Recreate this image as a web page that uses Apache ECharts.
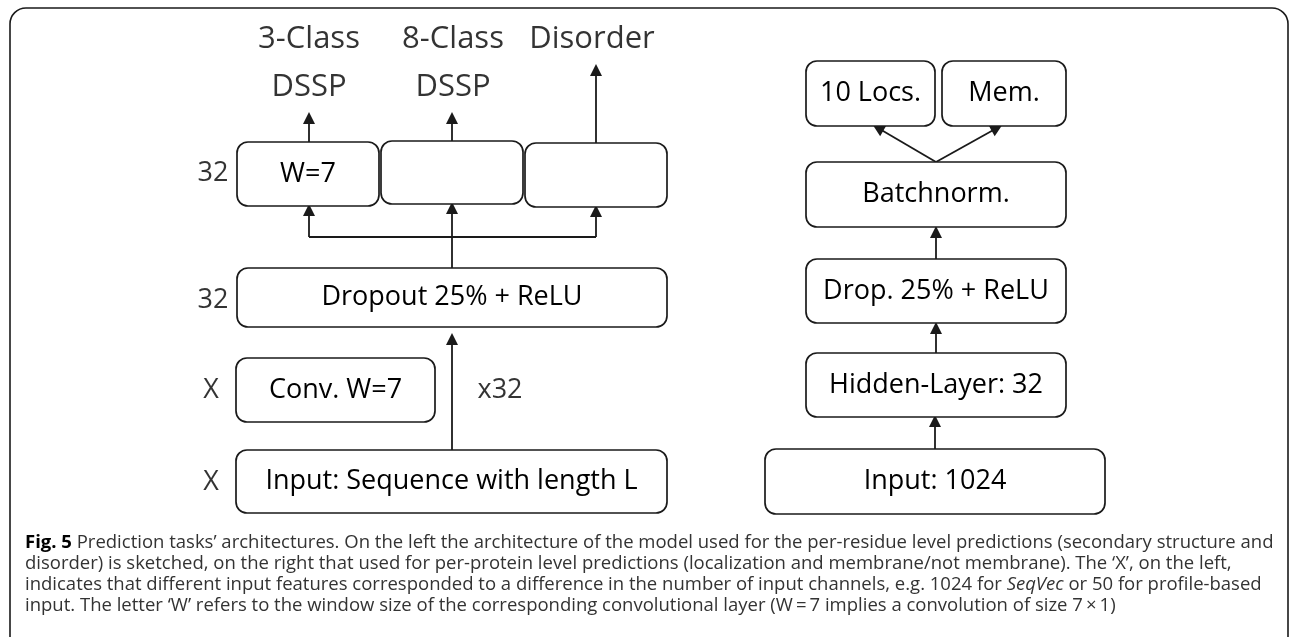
<!DOCTYPE html>
<html>
<head>
<meta charset="utf-8">
<script src="https://cdn.jsdelivr.net/npm/echarts@6/dist/echarts.min.js"></script>
<style>
  html, body { margin: 0; padding: 0; background: #fff; }
  #main { width: 1290px; height: 637px; }
</style>
</head>
<body>
<div id="main"></div>
<script>
// diagram units = picture pixels, y grows downward
var boxes = [
  // left: per-residue model
  { name: 'W=7',                            x0: 237, y0: 142, x1: 379, y1: 206 },
  { name: '',                               x0: 381, y0: 141, x1: 523, y1: 204 },
  { name: '',                               x0: 525, y0: 143, x1: 667, y1: 207 },
  { name: 'Dropout 25% + ReLU',             x0: 237, y0: 268, x1: 667, y1: 327 },
  { name: 'Conv. W=7',                      x0: 236, y0: 358, x1: 435, y1: 422 },
  { name: 'Input: Sequence with length L',  x0: 236, y0: 450, x1: 667, y1: 513 },
  // right: per-protein model
  { name: '10 Locs.',          x0: 806, y0: 61,  x1: 935,  y1: 126 },
  { name: 'Mem.',              x0: 942, y0: 61,  x1: 1066, y1: 126 },
  { name: 'Batchnorm.',        x0: 806, y0: 162, x1: 1066, y1: 227 },
  { name: 'Drop. 25% + ReLU',  x0: 806, y0: 259, x1: 1066, y1: 323 },
  { name: 'Hidden-Layer: 32',  x0: 806, y0: 353, x1: 1066, y1: 417 },
  { name: 'Input: 1024',       x0: 765, y0: 449, x1: 1105, y1: 514 }
];

// [from, to]; head at "to"
var arrows = [
  [[309, 142], [309, 118]],
  [[452, 141], [452, 118]],
  [[596, 143], [596, 70]],
  [[309, 237], [309, 210]],
  [[596, 237], [596, 211]],
  [[452, 268], [452, 208]],
  [[452, 450], [452, 339]],
  [[936, 162], [878, 128]],
  [[936, 162], [997, 128]],
  [[936, 259], [936, 232]],
  [[936, 353], [936, 328]],
  [[935, 449], [935, 421]]
];

var plainLines = [
  [[309, 237], [596, 237]]
];

var outputLabels = [
  { text: '3-Class\nDSSP', x: 309, y: 63 },
  { text: '8-Class\nDSSP', x: 453, y: 63 },
  { text: 'Disorder',      x: 592, y: 39 }
];

var sideLabels = [
  { text: '32',  x: 213, y: 173 },
  { text: '32',  x: 213, y: 300 },
  { text: 'X',   x: 211, y: 390 },
  { text: 'X',   x: 211, y: 482 },
  { text: 'x32', x: 500, y: 390 }
];

var frame = { x0: 10, y0: 8, x1: 1288, y1: 680 };

var captionLines = [
  '{b|Fig. 5} Prediction tasks\u2019 architectures. On the left the architecture of the model used for the per-residue level predictions (secondary structure and',
  'disorder) is sketched, on the right that used for per-protein level predictions (localization and membrane/not membrane). The \u2018X\u2019, on the left,',
  'indicates that different input features corresponded to a difference in the number of input channels, e.g. 1024 for {i|SeqVec} or 50 for profile-based',
  'input. The letter \u2018W\u2019 refers to the window size of the corresponding convolutional layer (W\u2009=\u20097 implies a convolution of size 7\u2009\u00d7\u20091)'
];

var FONT = '"Open Sans", "Noto Sans", sans-serif';
var INK = '#1a1a1a';
var CAP = 18.5;
var CAP_LH = 21.2;

var chart = echarts.init(document.getElementById('main'), null, { renderer: 'canvas' });

function rectItem(b, api, radius, lw, fill) {
  var p0 = api.coord([b.x0, b.y0]);
  var p1 = api.coord([b.x1, b.y1]);
  return {
    type: 'rect',
    shape: {
      x: Math.min(p0[0], p1[0]), y: Math.min(p0[1], p1[1]),
      width: Math.abs(p1[0] - p0[0]), height: Math.abs(p1[1] - p0[1]), r: radius
    },
    style: { fill: fill, stroke: INK, lineWidth: lw },
    textContent: b.name ? {
      style: { text: b.name, fontFamily: FONT, fontSize: 27, fill: '#000' }
    } : undefined,
    textConfig: { position: 'inside' }
  };
}

chart.setOption({
  animation: false,
  backgroundColor: '#fff',
  title: {
    left: 25, top: 532, padding: 0,
    text: captionLines.join('\n'),
    textStyle: {
      fontFamily: FONT, fontSize: CAP, lineHeight: CAP_LH, fontWeight: 'normal', color: '#333',
      rich: {
        b: { fontFamily: FONT, fontSize: CAP, lineHeight: CAP_LH, fontWeight: 'bold', color: '#000' },
        i: { fontFamily: FONT, fontSize: CAP, lineHeight: CAP_LH, fontStyle: 'italic', color: '#333' }
      }
    }
  },
  grid: { left: 0, right: 0, top: 0, bottom: 0 },
  xAxis: { type: 'value', min: 0, max: 1290, show: false },
  yAxis: { type: 'value', min: 0, max: 637, inverse: true, show: false },
  series: [
    {
      type: 'custom', name: 'frame', clip: false, z: 1,
      data: [0],
      renderItem: function (params, api) {
        return rectItem(frame, api, 16, 1.6, 'none');
      }
    },
    {
      type: 'custom', name: 'boxes', z: 3,
      data: boxes.map(function (b, i) { return i; }),
      renderItem: function (params, api) {
        return rectItem(boxes[params.dataIndex], api, 11, 1.7, '#fff');
      }
    },
    {
      type: 'lines', coordinateSystem: 'cartesian2d', z: 2,
      symbol: 'none',
      lineStyle: { color: INK, width: 1.8, opacity: 1 },
      data: plainLines.map(function (l) { return { coords: l }; })
    },
    {
      type: 'lines', coordinateSystem: 'cartesian2d', z: 2,
      symbol: ['none', 'triangle'], symbolSize: 12,
      lineStyle: { color: INK, width: 1.8, opacity: 1 },
      data: arrows.map(function (l) { return { coords: l }; })
    },
    {
      type: 'scatter', symbolSize: 0, z: 4,
      data: outputLabels.map(function (d) { return { value: [d.x, d.y], name: d.text }; }),
      label: {
        show: true, position: 'inside', formatter: '{b}',
        fontFamily: FONT, fontSize: 31, lineHeight: 48, color: '#000', textBorderWidth: 0
      }
    },
    {
      type: 'scatter', symbolSize: 0, z: 4,
      data: sideLabels.map(function (d) { return { value: [d.x, d.y], name: d.text }; }),
      label: {
        show: true, position: 'inside', formatter: '{b}',
        fontFamily: FONT, fontSize: 27, color: '#000', textBorderWidth: 0
      }
    }
  ]
});
</script>
</body>
</html>
